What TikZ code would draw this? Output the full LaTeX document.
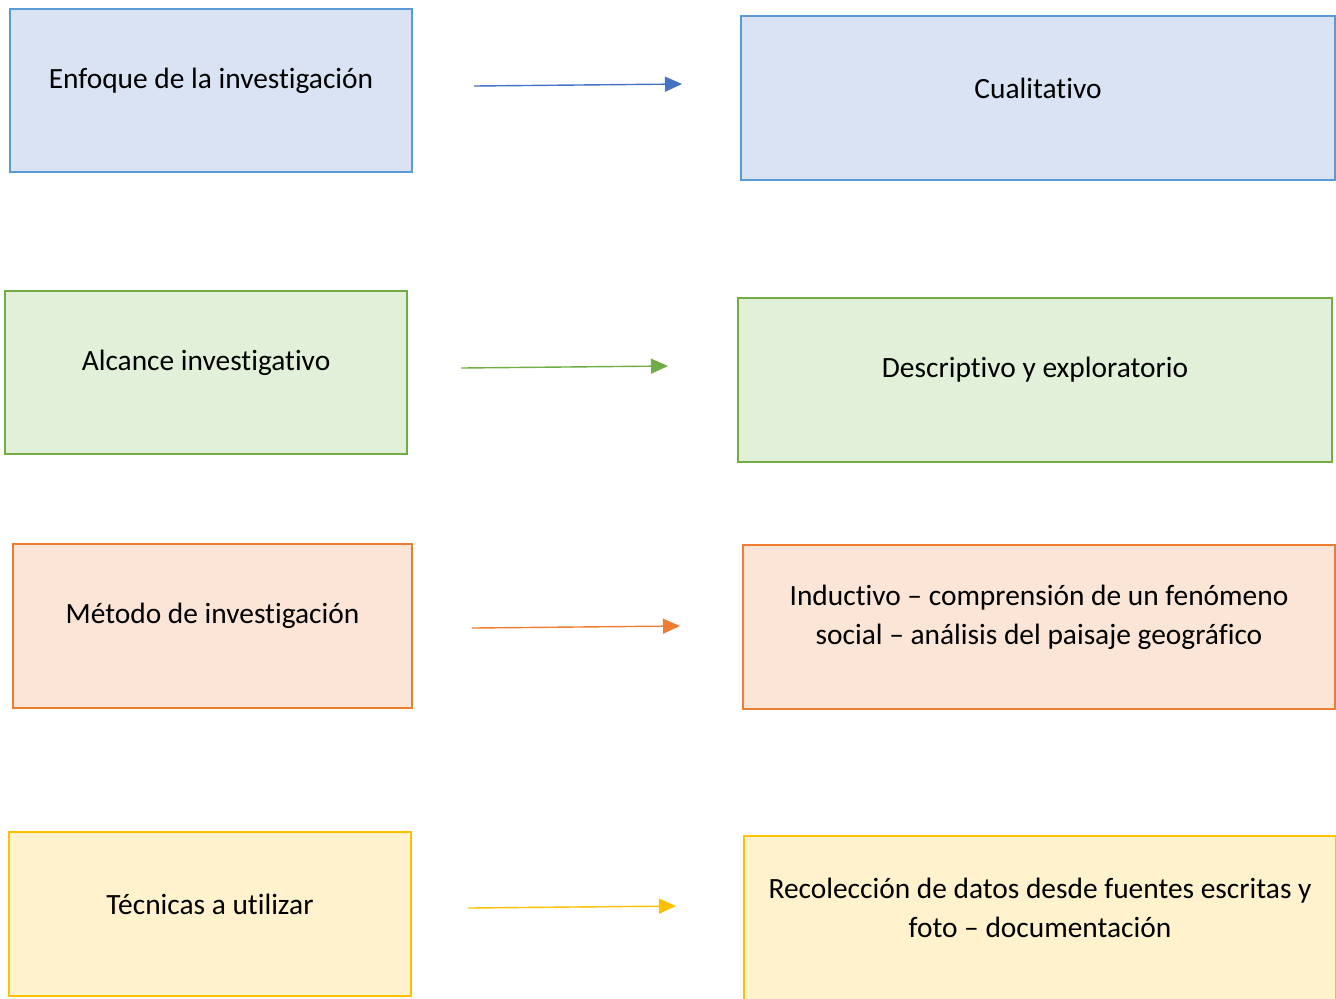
\documentclass[tikz,border=0pt]{standalone}
\usepackage{fontspec}
\setmainfont[Ligatures=NoCommon]{Carlito}
\usetikzlibrary{arrows.meta,positioning}

\definecolor{azulB}{HTML}{5B9BD5}
\definecolor{azulF}{HTML}{DAE3F3}
\definecolor{azulA}{HTML}{4472C4}
\definecolor{verdeB}{HTML}{70AD47}
\definecolor{verdeF}{HTML}{E2F0D9}
\definecolor{naranjaB}{HTML}{ED7D31}
\definecolor{naranjaF}{HTML}{FBE5D6}
\definecolor{amarilloB}{HTML}{FFC000}
\definecolor{amarilloF}{HTML}{FFF2CC}

\begin{document}
\begin{tikzpicture}[x=0.5pt,y=-0.5pt]
\tikzset{
  caja/.style={draw=#1B, fill=#1F, line width=1.2pt, inner sep=0pt},
  izq/.style={minimum width=201pt, minimum height=81.5pt},
  der/.style={minimum width=297pt, minimum height=82pt},
  texto/.style={font=\fontsize{14.7}{19.5}\selectfont, align=center},
  flecha/.style={draw=#1, line width=0.7pt, -{Triangle[length=8.5pt,width=7.5pt]}}
}

\clip (0,0) rectangle (1336,998);

\node[caja=azul, izq] (E) at (211,90.5) {};
\node[caja=azul, der] (C) at (1038,98) {};
\node[caja=verde, izq] (A) at (206,372.5) {};
\node[caja=verde, der] (D) at (1035,380) {};
\node[caja=naranja, izq, minimum width=199.5pt, minimum height=82pt] (M) at (212.5,626) {};
\node[caja=naranja, der, minimum width=296pt] (I) at (1039,627) {};
\node[caja=amarillo, izq, minimum height=82pt] (T) at (210,914) {};
\node[caja=amarillo, der, minimum width=296pt] (R) at (1040,918) {};

\node[texto] (Et) at ([yshift=5pt]E.center) {Enfoque de la investigación};
\node[texto] (Ct) at ([yshift=5pt]C.center) {Cualitativo};
\node[texto] (At) at ([yshift=5pt]A.center) {Alcance investigativo};
\node[texto] (Dt) at ([yshift=5pt]D.center) {Descriptivo y exploratorio};
\node[texto] (Mt) at ([yshift=5pt]M.center) {Método de investigación};
\node[texto] (It) at ([yshift=5pt]I.center) {Inductivo – comprensión de un fenómeno\\social – análisis del paisaje geográfico};
\node[texto] (Tt) at ([yshift=5pt]T.center) {Técnicas a utilizar};
\node[texto] (Rt) at ([yshift=5pt]R.center) {Recolección de datos desde fuentes escritas y\\foto – documentación};

\coordinate (e1) at (474,86);
\coordinate (e2) at (682,84);
\coordinate (a1) at (461,368);
\coordinate (a2) at (668,366);
\coordinate (m1) at (472,628);
\coordinate (m2) at (680,626);
\coordinate (t1) at (468,908);
\coordinate (t2) at (676,906);

\draw[flecha=azulA] (e1) -- (e2);
\draw[flecha=verdeB] (a1) -- (a2);
\draw[flecha=naranjaB] (m1) -- (m2);
\draw[flecha=amarilloB] (t1) -- (t2);
\end{tikzpicture}
\end{document}
